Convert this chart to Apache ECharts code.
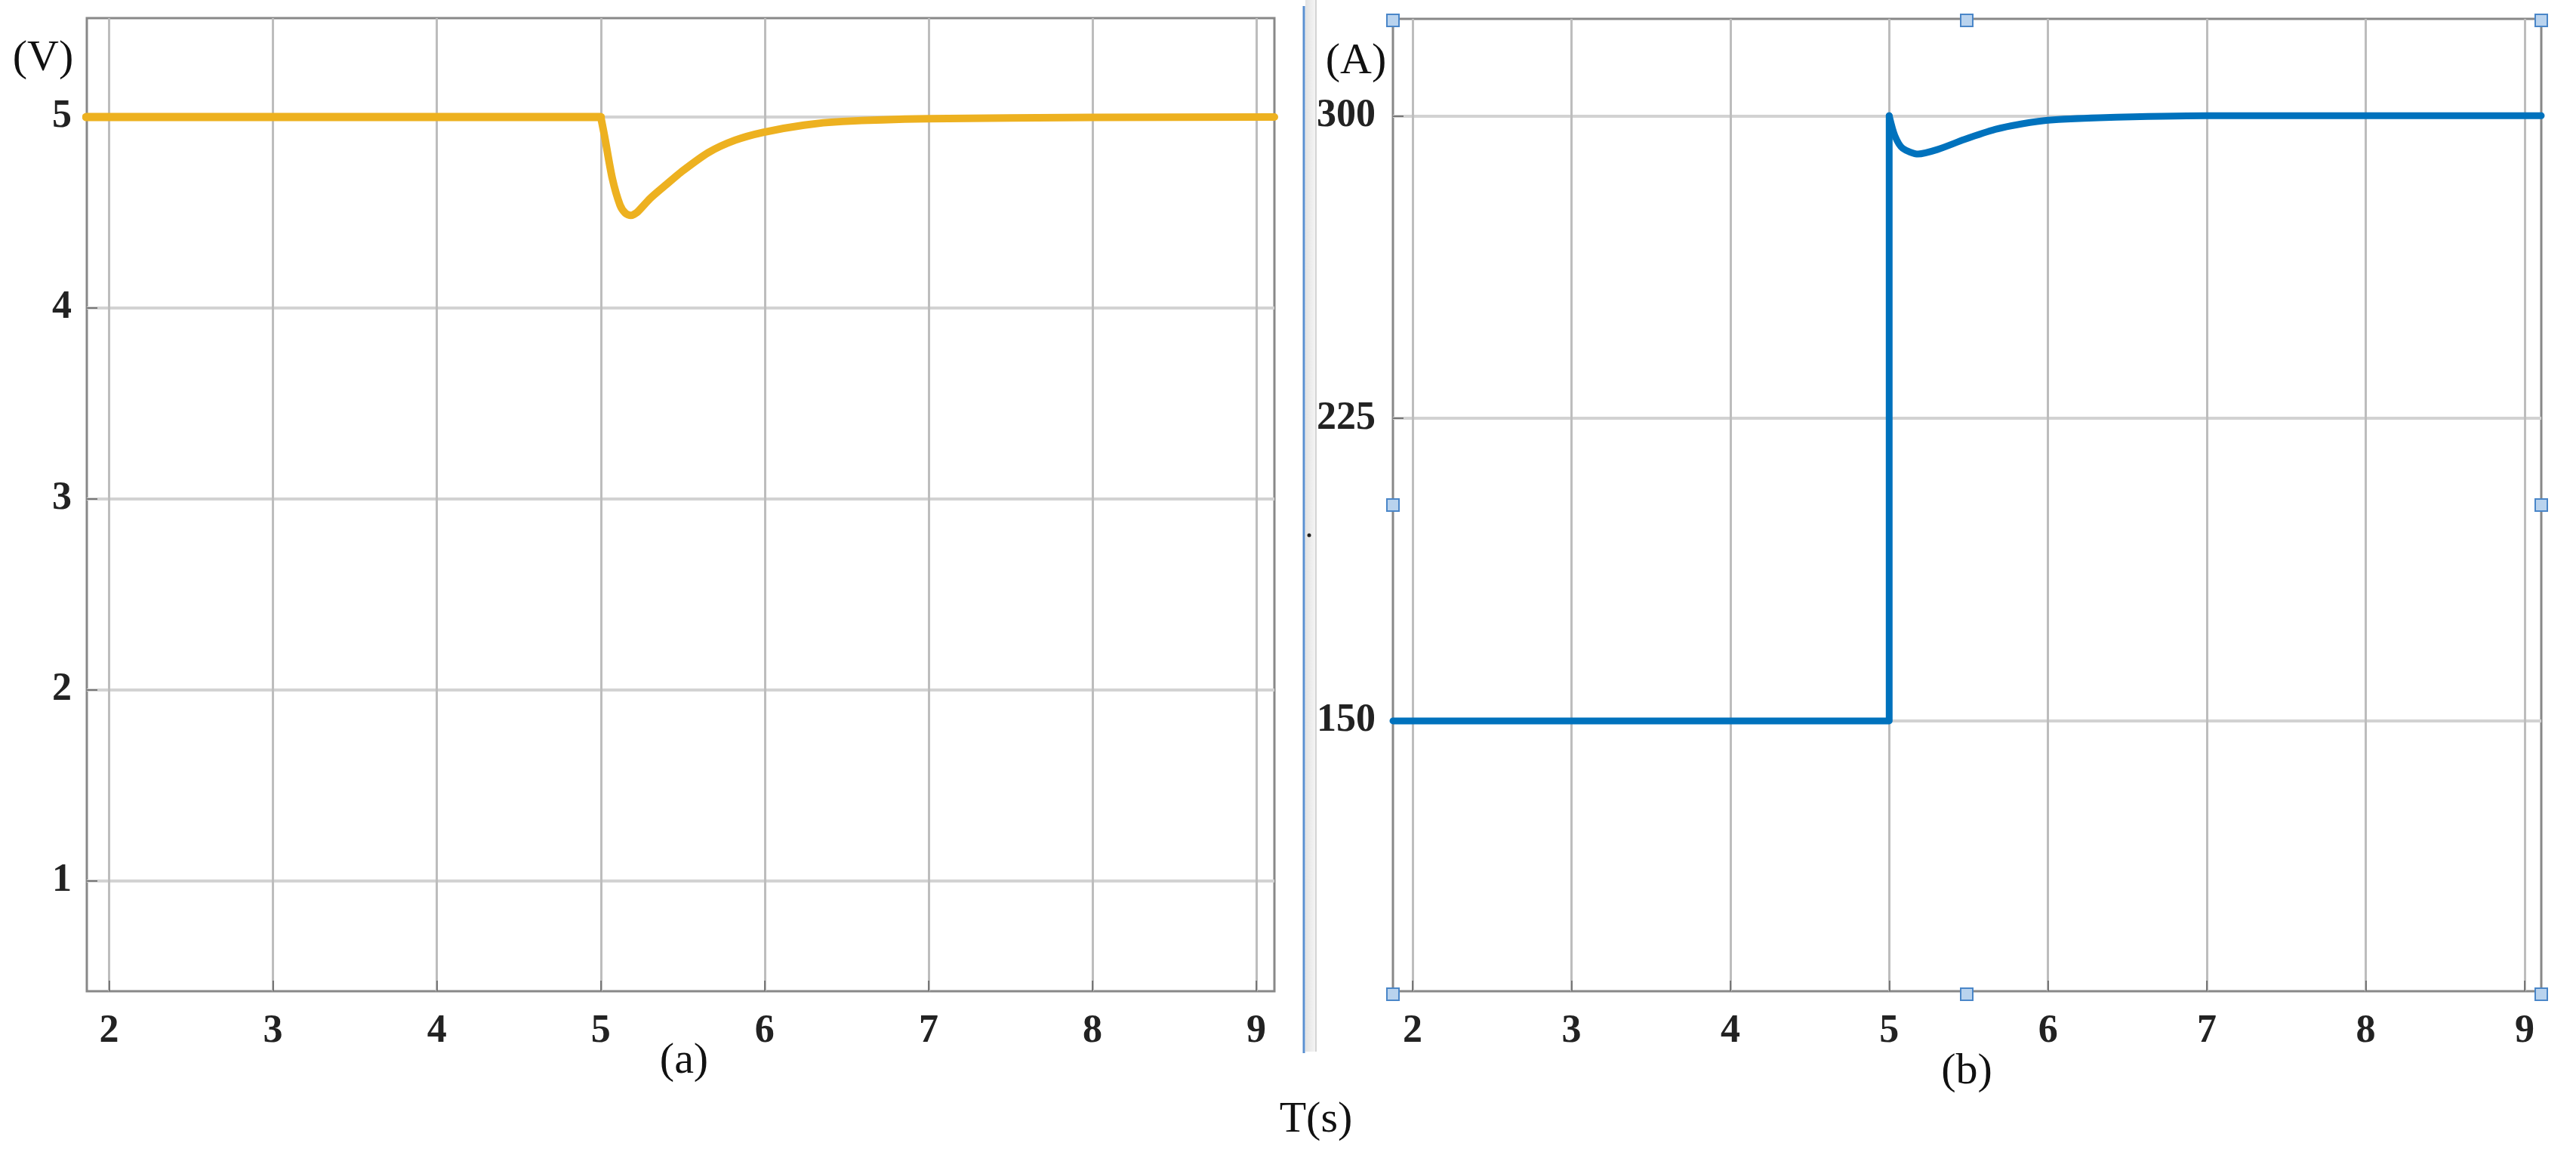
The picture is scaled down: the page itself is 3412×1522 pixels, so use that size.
<!DOCTYPE html>
<html>
<head>
<meta charset="utf-8">
<script src="https://cdn.jsdelivr.net/npm/echarts@6/dist/echarts.min.js"></script>
<style>
  html, body { margin: 0; padding: 0; background: #fff; }
  #chart { width: 3412px; height: 1522px; }
</style>
</head>
<body>
<div id="chart"></div>
<script>
// time ticks shared by both panels
const timeTicks = [2, 3, 4, 5, 6, 7, 8, 9]
const voltTicks = [1, 2, 3, 4, 5]
const currentTicks = [150, 225, 300]

// (a) voltage: flat part, then the dip after the step at t = 5 s
const voltFlat = [[1.86, 5], [5.0, 5]]
const voltDip = [
  [5.0, 5], [5.023, 4.9], [5.07, 4.68], [5.117, 4.54], [5.15, 4.497],
  [5.183, 4.485], [5.22, 4.5], [5.30, 4.573], [5.40, 4.647], [5.49, 4.712],
  [5.656, 4.814], [5.82, 4.879], [5.99, 4.92], [6.24, 4.958], [6.475, 4.977],
  [6.995, 4.991], [8.0, 4.998], [9.11, 5]
]

// (b) current: 150 A step up to 300 A, small sag, recovery
const currentStep = [[1.876, 150], [5.0, 150], [5.0, 300]]
const currentRecover = [
  [5.0, 300], [5.036, 295], [5.085, 291.9], [5.182, 290.5], [5.303, 291.6],
  [5.473, 294.1], [5.667, 296.6], [5.837, 298.0], [6.0, 298.9], [6.32, 299.5],
  [7.0, 300], [8.0, 300], [9.105, 300]
]

const yellow = '#EDB120'
const blue = '#0072BD'
const serif = '"Liberation Serif", "Times New Roman", serif'

function xAxisFor(gridIndex, min, max) {
  return {
    type: 'value', gridIndex, min, max,
    axisLine: { show: false },
    axisTick: { show: true, inside: true, length: 14, customValues: timeTicks, lineStyle: { color: '#777', width: 2 } },
    axisLabel: { customValues: timeTicks, margin: 28, fontFamily: serif, fontWeight: 'bold', fontSize: 52, color: '#222' },
    splitLine: { show: true, lineStyle: { color: '#bdbdbd', width: 3 } }
  }
}

function yAxisFor(gridIndex, min, max, ticks, margin) {
  return {
    type: 'value', gridIndex, min, max,
    axisLine: { show: false },
    axisTick: { show: true, inside: true, length: 14, customValues: ticks, lineStyle: { color: '#777', width: 2 } },
    axisLabel: { customValues: ticks, margin, fontFamily: serif, fontWeight: 'bold', fontSize: 52, color: '#222' },
    splitLine: { show: true, lineStyle: { color: '#d2d2d2', width: 4 } }
  }
}

function lineSeries(idx, data, color, width, smooth) {
  return {
    type: 'line', xAxisIndex: idx, yAxisIndex: idx, data,
    showSymbol: false, smooth, animation: false,
    lineStyle: { color, width, join: 'round', cap: 'round' }
  }
}

// selection handles round panel (b)
const handleSpots = [
  [1845, 27], [2605, 27], [3366, 27], [1845, 669], [3366, 669],
  [1845, 1317], [2605, 1317], [3366, 1317]
]
const handles = handleSpots.map(([x, y]) => ({
  type: 'rect', z: 100,
  shape: { x: x - 8, y: y - 8, width: 16, height: 16 },
  style: { fill: '#b9d3ee', stroke: '#4a86c8', lineWidth: 2 }
}))

function label(text, x, y) {
  return {
    type: 'text', x, y, z: 100,
    style: { text, fontFamily: serif, fontSize: 58, fill: '#111', align: 'center', verticalAlign: 'middle' }
  }
}

const chart = echarts.init(document.getElementById('chart'))
chart.setOption({
  backgroundColor: '#fff',
  animation: false,
  grid: [
    { left: 115, right: 1724, top: 24, bottom: 209, show: true, borderColor: '#888', borderWidth: 3 },
    { left: 1845, right: 46, top: 25, bottom: 209, show: true, borderColor: '#888', borderWidth: 3 }
  ],
  xAxis: [xAxisFor(0, 1.864, 9.11), xAxisFor(1, 1.876, 9.105)],
  yAxis: [yAxisFor(0, 0.423, 5.518, voltTicks, 20), yAxisFor(1, 83, 324, currentTicks, 23)],
  series: [
    lineSeries(0, voltFlat, yellow, 11, false),
    lineSeries(0, voltDip, yellow, 10, 0.25),
    lineSeries(1, currentStep, blue, 9, false),
    lineSeries(1, currentRecover, blue, 9, 0.25)
  ],
  graphic: [
    {
      type: 'rect', shape: { x: 1729, y: 0, width: 15, height: 1393 },
      style: { fill: new echarts.graphic.LinearGradient(0, 0, 1, 0, [
        { offset: 0, color: '#e2e2e2' }, { offset: 1, color: '#f7f7f7' }
      ]) }
    },
    { type: 'line', shape: { x1: 1727, y1: 8, x2: 1727, y2: 1395 }, style: { stroke: '#5a8fd0', lineWidth: 3 } },
    { type: 'line', shape: { x1: 1743, y1: 0, x2: 1743, y2: 1393 }, style: { stroke: '#d4d4d4', lineWidth: 2 } },
    { type: 'circle', shape: { cx: 1734, cy: 709, r: 2.5 }, style: { fill: '#222' } },
    label('(V)', 57, 78),
    label('(A)', 1796, 82),
    label('(a)', 906, 1406),
    label('(b)', 2605, 1420),
    label('T(s)', 1743, 1484),
    ...handles
  ]
})
</script>
</body>
</html>
